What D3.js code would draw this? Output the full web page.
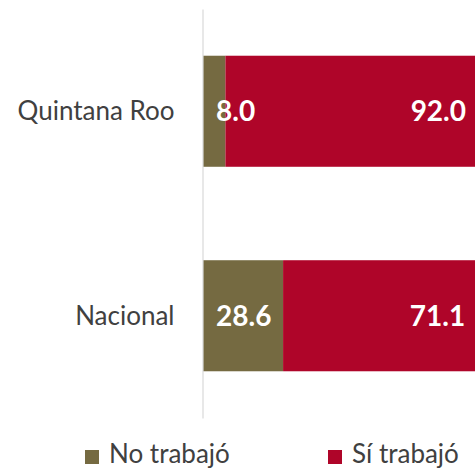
<!DOCTYPE html>
<html>
<head>
<meta charset="utf-8">
<script src="https://cdn.jsdelivr.net/npm/d3@7"></script>
<style>
  html, body { margin: 0; padding: 0; background: #fff; }
  svg { display: block; }
  text { font-family: Lato, "Noto Sans", sans-serif; }
</style>
</head>
<body>
<svg id="chart" width="475" height="469"></svg>
<script>
// Share of population by whether they worked
const categories = ["Quintana Roo", "Nacional"];
const seriesNames = ["No trabajó", "Sí trabajó"];
const noTrabajo = [8.0, 28.6];
const siTrabajo = [92.0, 71.1];
const seriesColors = ["#756A41", "#AF0529"];

const rows = categories.map((c, i) => ({
  cat: c,
  "No trabajó": noTrabajo[i],
  "Sí trabajó": siTrabajo[i]
}));

const svg = d3.select("#chart");

const x = d3.scaleLinear().domain([0, 100]).range([203, 483]);
const y = d3.scaleBand()
  .domain(categories)
  .range([9, 418])
  .paddingInner(0.457)
  .paddingOuter(0.2285);
const color = d3.scaleOrdinal().domain(seriesNames).range(seriesColors);

const stacked = d3.stack().keys(seriesNames)(rows);

// stacked bars
svg.append("g").selectAll("g")
  .data(stacked)
  .join("g")
  .attr("fill", d => color(d.key))
  .selectAll("rect")
  .data(d => d)
  .join("rect")
  .attr("x", d => x(d[0]))
  .attr("y", d => y(d.data.cat))
  .attr("width", d => x(d[1]) - x(d[0]))
  .attr("height", y.bandwidth());

// category axis
const axis = svg.append("g")
  .attr("transform", `translate(${x(0) - 0.5},0)`)
  .call(d3.axisLeft(y).tickSize(0).tickSizeOuter(0).tickPadding(28));
axis.select(".domain").attr("stroke", "#d9d9d9").attr("stroke-width", 1.2);
axis.selectAll(".tick text")
  .attr("fill", "#404040")
  .style("font-size", "26px")
  .attr("dy", "0.35em");

// value labels on top of all bars: first series at the base, second at the end
const labels = svg.append("g");
stacked.forEach((layer, li) => {
  labels.append("g").selectAll("text")
    .data(layer)
    .join("text")
    .attr("x", d => li === 0 ? x(d[0]) + 13 : x(d[1]) - 17)
    .attr("y", d => y(d.data.cat) + y.bandwidth() / 2)
    .attr("dy", "0.36em")
    .attr("text-anchor", li === 0 ? "start" : "end")
    .attr("fill", "#fff")
    .style("font-size", "28px")
    .style("font-weight", "bold")
    .text(d => d3.format(".1f")(d[1] - d[0]));
});

// legend
const legendX = [85, 328];
const legend = svg.append("g").selectAll("g")
  .data(seriesNames)
  .join("g")
  .attr("transform", (d, i) => `translate(${legendX[i]},450)`);
legend.append("rect")
  .attr("width", 14).attr("height", 14)
  .attr("fill", d => color(d));
legend.append("text")
  .attr("x", 24).attr("y", 13)
  .attr("fill", "#404040")
  .style("font-size", "26px")
  .text(d => d);
</script>
</body>
</html>
